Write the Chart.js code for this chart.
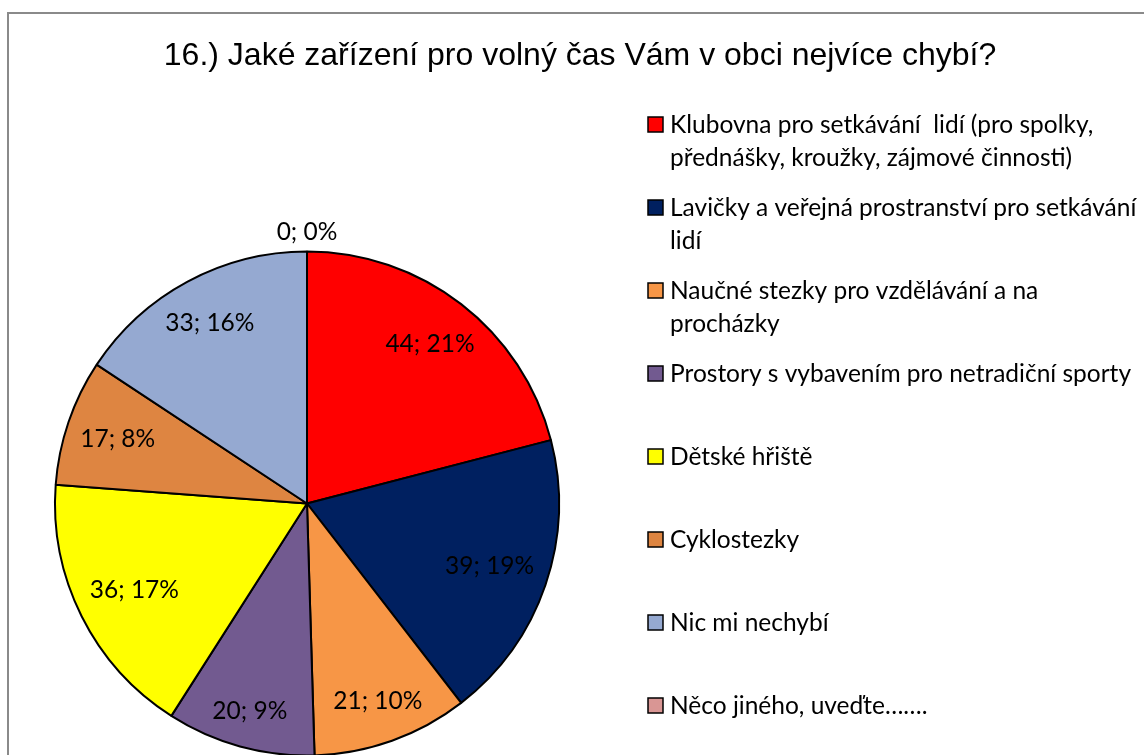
<!DOCTYPE html>
<html>
<head>
<meta charset="utf-8">
<script src="https://cdn.jsdelivr.net/npm/chart.js@4"></script>
<style>
  html, body { margin: 0; padding: 0; background: #fff; }
  #wrap { width: 1144px; height: 755px; position: relative; }
</style>
</head>
<body>
<div id="wrap"><canvas id="pieChart" width="1144" height="755"></canvas></div>
<script>
// data
const title = "16.) Jaké zařízení pro volný čas Vám v obci nejvíce chybí?";
const categories = [
  ["Klubovna pro setkávání  lidí (pro spolky,", "přednášky, kroužky, zájmové činnosti)"],
  ["Lavičky a veřejná prostranství pro setkávání", "lidí"],
  ["Naučné stezky pro vzdělávání a na", "procházky"],
  ["Prostory s vybavením pro netradiční sporty"],
  ["Dětské hřiště"],
  ["Cyklostezky"],
  ["Nic mi nechybí"],
  ["Něco jiného, uveďte……."]
];
const counts = [44, 39, 21, 20, 36, 17, 33, 0];
const colors = ["#FF0000", "#002060", "#F79646", "#725A90", "#FFFF00", "#DE8541", "#95A9D1", "#D99694"];

const labelFont = "24.5px Lato, 'Open Sans', sans-serif";
const total = counts.reduce((a, b) => a + b, 0);

// whole percents that add up to 100 (largest remainder)
const raw = counts.map(v => v / total * 100);
const percents = raw.map(Math.floor);
let left = 100 - percents.reduce((a, b) => a + b, 0);
raw.map((v, i) => [v - Math.floor(v), i])
  .sort((a, b) => b[0] - a[0])
  .slice(0, left)
  .forEach(([, i]) => percents[i]++);

// frame, title, legend and data labels
const decorPlugin = {
  id: "decor",
  beforeDraw(chart) {
    const c = chart.ctx;
    c.save();
    c.fillStyle = "#fff";
    c.fillRect(0, 0, chart.width, chart.height);
    c.strokeStyle = "#8a8a8a";
    c.lineWidth = 2;
    c.strokeRect(8, 13, 1300, 900);
    c.restore();
  },
  afterDraw(chart) {
    const c = chart.ctx;
    c.save();
    // title
    c.fillStyle = "#000";
    c.font = "32px 'Liberation Sans', Arial, sans-serif";
    c.textAlign = "center";
    c.textBaseline = "middle";
    c.fillText(title, 580, 56);

    // legend
    c.font = labelFont;
    c.textAlign = "left";
    categories.forEach((lines, i) => {
      const y = 124 + i * 83;
      c.fillStyle = colors[i];
      c.fillRect(648, y - 7, 15, 15);
      c.strokeStyle = "#000";
      c.lineWidth = 1.5;
      c.strokeRect(648, y - 7, 15, 15);
      c.fillStyle = "#000";
      lines.forEach((t, j) => c.fillText(t, 670, y + 1 + j * 33));
    });

    // data labels
    const arcs = chart.getDatasetMeta(0).data;
    arcs.forEach((arc, i) => {
      const txt = counts[i] + "; " + percents[i] + "%";
      const w = c.measureText(txt).width, h = 24;
      const mid = (arc.startAngle + arc.endAngle) / 2;
      const cx = arc.x, cy = arc.y, R = arc.outerRadius;
      let px, py;
      if (counts[i] === 0) {
        px = cx + Math.cos(mid) * (R + 19);
        py = cy + Math.sin(mid) * (R + 19);
      } else {
        // push label outward until its box reaches the rim zone
        let d = R;
        for (; d > 0; d -= 1) {
          px = cx + Math.cos(mid) * d;
          py = cy + Math.sin(mid) * d;
          let far = 0;
          [[-1, -1], [1, -1], [-1, 1], [1, 1]].forEach(([sx, sy]) => {
            const dx = px + sx * w / 2 - cx, dy = py + sy * h / 2 - cy;
            far = Math.max(far, Math.hypot(dx, dy));
          });
          if (far <= R * 0.95) break;
        }
      }
      c.fillStyle = "#000";
      c.textAlign = "center";
      c.textBaseline = "middle";
      c.fillText(txt, px, py);
    });
    c.restore();
  }
};

const ctx = document.getElementById("pieChart").getContext("2d");
new Chart(ctx, {
  type: "pie",
  data: {
    labels: categories.map(l => l.join(" ")),
    datasets: [
      {
        data: counts,
        backgroundColor: colors,
        borderColor: "#000",
        borderWidth: 2,
        hoverOffset: 0,
        radius: 252,
      },
    ],
  },
  options: {
    responsive: false,
    animation: false,
    layout: { padding: { left: 55, right: 585, top: 252, bottom: 0 } },
    plugins: {
      legend: { display: false },
      title: { display: false },
      tooltip: { enabled: false },
    },
  },
  plugins: [decorPlugin],
});
</script>
</body>
</html>
